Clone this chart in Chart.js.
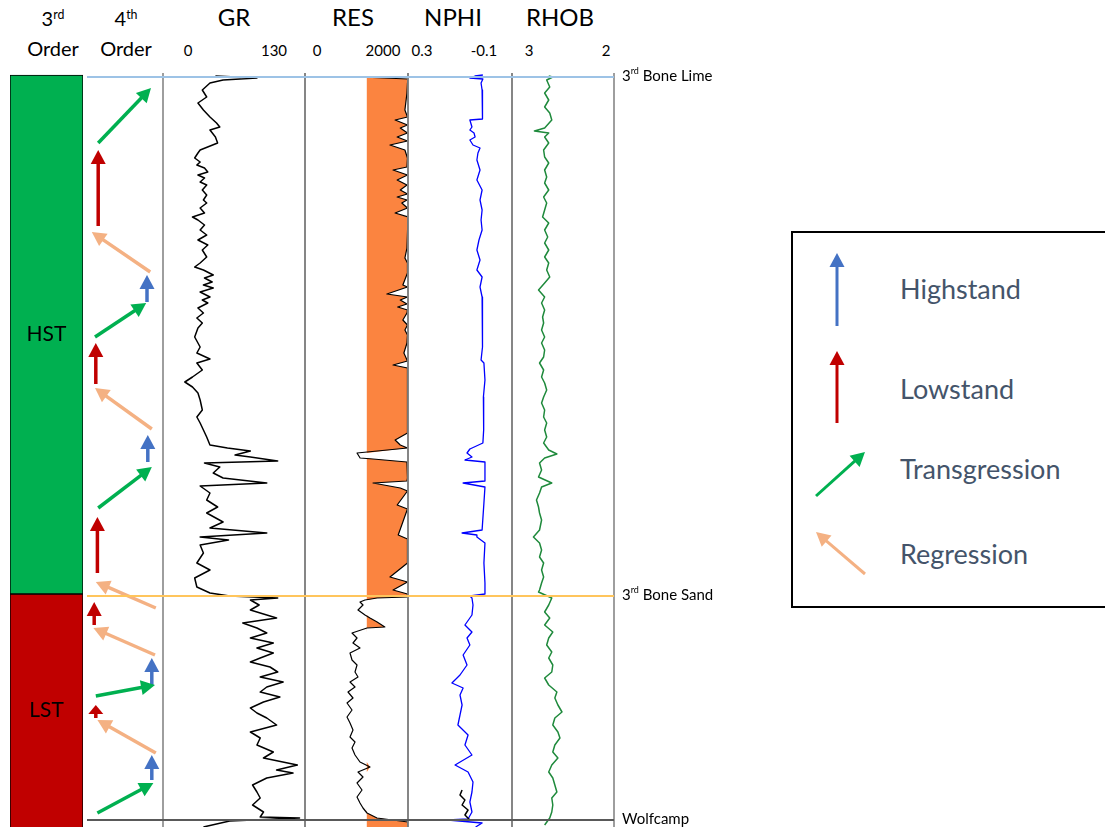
<!DOCTYPE html>
<html>
<head>
<meta charset="utf-8">
<title>Sequence stratigraphy log panel</title>
<script src="https://cdn.jsdelivr.net/npm/chart.js@4.4.1/dist/chart.umd.min.js"></script>
<style>
  html, body { margin: 0; padding: 0; background: #fff; }
  body { position: relative; width: 1105px; height: 827px; overflow: hidden; font-family: Lato, "Open Sans", sans-serif; color: #000; }
  .pane { position: absolute; }
  .pane canvas { display: block; }
  .txt { position: absolute; transform: translate(-50%, -50%); white-space: nowrap; line-height: 1; }
  sup { font-size: 0.62em; position: relative; top: -0.6em; vertical-align: baseline; line-height: 0; }
  .title { font-size: 24px; }
  .col { font-size: 20px; }
  .tick { font-size: 15px; }
  #legendBox { position: absolute; left: 791px; top: 231px; width: 340px; height: 377px; border: 2px solid #000; box-sizing: border-box; }
  .legTxt { position: absolute; left: 900px; transform: translateY(-50%); font-size: 27px; color: #44546a; line-height: 1; white-space: nowrap; }
</style>
</head>
<body>
<div id="legendBox"></div>
<script>
// depth runs down from the top of the log panel (same units for every track)
const DEPTH_MAX = 754;
const RES_CUTOFF = 1200;

// headers and scale labels
const columnTitles = ['3rd Order', '4th Order'];
const trackNames = ['GR', 'RES', 'NPHI', 'RHOB'];
const grTicks = ['0', '130'];
const resTicks = ['0', '2000'];
const nphiTicks = ['0.3', '-0.1'];
const rhobTicks = ['3', '2'];

// 3rd order systems tracts
const tractNames = ['HST', 'LST'];
const tractTop = [2, 521];
const tractBase = [521, 760];

// formation tops
const topNames = ['3rd Bone Lime', '3rd Bone Sand', 'Wolfcamp'];
const topDepth = [4, 523, 747];

// 4th order cycles: H highstand, L lowstand, T transgression, R regression
const arrowType = ['T', 'L', 'R', 'H', 'T', 'L', 'R', 'H', 'T', 'L', 'R', 'L', 'R', 'H', 'T', 'L', 'R', 'H', 'T'];
const arrowFromX = [0.19, 0.19, 0.84, 0.80, 0.15, 0.16, 0.86, 0.81, 0.19, 0.18, 0.91, 0.14, 0.90, 0.86, 0.16, 0.16, 0.91, 0.86, 0.18];
const arrowFromDepth = [70, 153, 199, 229, 264, 311, 356, 389, 435, 500, 535, 552, 582, 612, 623, 645, 680, 707, 740];
const arrowToX = [0.85, 0.19, 0.11, 0.80, 0.79, 0.16, 0.15, 0.81, 0.86, 0.18, 0.16, 0.14, 0.13, 0.86, 0.90, 0.16, 0.18, 0.86, 0.88];
const arrowToDepth = [15, 77, 159, 202, 230, 270, 315, 362, 394, 444, 509, 529, 555, 585, 612, 632, 647, 682, 710];

const legendCodes = ['H', 'L', 'T', 'R'];
const legendLabels = ['Highstand', 'Lowstand', 'Transgression', 'Regression'];

// GR (API)
const grDepth = [
  3, 5, 7, 10, 17, 24, 30, 37, 44, 50,
  54, 57, 64, 70, 77, 80, 85, 89, 92, 95,
  99, 102, 105, 109, 112, 117, 122, 127, 130, 135,
  140, 144, 147, 152, 157, 162, 167, 172, 177, 184,
  190, 194, 197, 202, 205, 209, 212, 215, 219, 224,
  227, 230, 235, 240, 245, 250, 255, 264, 274, 280,
  286, 290, 297, 304, 309, 314, 320, 327, 337, 344,
  350, 357, 364, 372, 375, 378, 382, 384, 388, 390,
  394, 400, 405, 410, 413, 420, 427, 434, 440, 449,
  455, 460, 464, 467, 472, 480, 490, 497, 505, 514,
  520, 523, 525, 527, 532, 537, 542, 545, 550, 555,
  560, 565, 570, 575, 580, 585, 589, 594, 599, 604,
  609, 614, 619, 624, 629, 635, 640, 645, 652, 659,
  665, 672, 679, 685, 692, 697, 700, 705, 712, 719,
  725, 732, 739, 744, 745, 748, 754
];
const grValues = [
  48, 86, 55, 43, 36, 40, 32, 37, 43, 49,
  52, 43, 48, 50, 34, 32, 29, 34, 31, 38,
  41, 32, 38, 34, 40, 36, 40, 37, 40, 34,
  38, 27, 32, 38, 34, 40, 32, 41, 36, 40,
  34, 29, 37, 46, 38, 45, 37, 46, 34, 43,
  36, 41, 32, 37, 31, 36, 32, 29, 34, 31,
  43, 31, 36, 27, 20, 27, 32, 34, 36, 31,
  34, 37, 40, 43, 59, 80, 66, 80, 105, 38,
  52, 46, 55, 95, 34, 43, 40, 50, 40, 55,
  43, 95, 34, 60, 34, 37, 31, 43, 29, 31,
  43, 61, 105, 80, 88, 80, 95, 104, 73, 86,
  95, 80, 101, 86, 101, 89, 80, 98, 105, 89,
  110, 95, 89, 107, 92, 80, 86, 95, 104, 80,
  89, 86, 101, 92, 123, 104, 119, 95, 82, 86,
  89, 82, 92, 89, 125, 61, 37
];

// RES (ohm.m)
const resDepth = [
  4, 6, 10, 20, 37, 44, 47, 52, 55, 60,
  64, 68, 72, 77, 85, 94, 97, 102, 107, 112,
  117, 121, 124, 127, 130, 135, 140, 144, 160, 175,
  185, 190, 200, 212, 214, 221, 224, 227, 231, 234,
  237, 240, 247, 252, 257, 262, 270, 280, 288, 292,
  295, 310, 330, 360, 367, 372, 375, 380, 385, 386,
  389, 405, 408, 410, 415, 418, 432, 436, 462, 466,
  490, 504, 509, 517, 521, 524, 525, 527, 529, 532,
  537, 542, 545, 549, 554, 555, 560, 565, 570, 575,
  580, 587, 592, 599, 604, 609, 614, 619, 625, 630,
  637, 644, 650, 657, 664, 669, 675, 682, 689, 694,
  699, 704, 710, 717, 724, 730, 735, 740, 745, 749,
  754
];
const resValues = [
  1070, 2000, 1990, 1980, 1940, 1990, 1750, 1990, 1850, 1990,
  1790, 1990, 1650, 1940, 1990, 1980, 1710, 1990, 1790, 1980,
  1850, 1990, 1790, 1980, 1880, 1990, 1750, 2000, 1990, 1980,
  1940, 1990, 1990, 1900, 1990, 1590, 1990, 1850, 1980, 1800,
  1990, 1980, 1900, 1990, 1940, 1990, 1980, 1920, 1990, 1710,
  1990, 1990, 1990, 1990, 1750, 1850, 1990, 1010, 1070, 1320,
  1980, 1990, 1980, 1320, 1850, 1990, 1790, 1990, 1810, 1990,
  1990, 1650, 1990, 1710, 1990, 1990, 1400, 1165, 1068, 1126,
  1029, 1165, 1262, 1400, 1550, 1204, 913, 1010, 932, 1068,
  874, 913, 1010, 971, 1029, 874, 971, 835, 932, 816,
  913, 816, 874, 932, 874, 971, 913, 971, 1068, 1262,
  1029, 1126, 1010, 1107, 1010, 1068, 1126, 1204, 1398, 2000,
  2000
];

// NPHI (v/v)
const nphiDepth = [
  2, 3, 5, 6, 10, 17, 24, 30, 37, 46,
  47, 54, 57, 60, 64, 67, 72, 75, 80, 87,
  97, 107, 117, 127, 137, 147, 157, 167, 177, 187,
  197, 204, 214, 224, 234, 244, 257, 274, 287, 290,
  307, 324, 340, 357, 370, 376, 380, 384, 387, 389,
  408, 410, 414, 430, 457, 460, 462, 464, 470, 490,
  510, 521, 523, 525, 532, 542, 552, 559, 565, 572,
  582, 592, 602, 610, 615, 622, 632, 642, 652, 662,
  672, 682, 692, 699, 709, 719, 729, 739, 746, 747,
  750, 754
];
const nphiValues = [
  0.012, 0.042, 0.062, 0.012, 0.019, 0.015, 0.012, 0.015, 0.012, 0.015,
  0.062, 0.054, 0.062, 0.046, 0.042, 0.062, 0.050, 0.023, 0.031, 0.035,
  0.023, 0.035, 0.015, 0.023, 0.015, 0.019, 0.015, 0.027, 0.035, 0.023,
  0.035, 0.015, 0.023, 0.015, 0.015, 0.012, 0.012, 0.015, 0.019, 0.008,
  0.004, 0.010, 0.008, 0.010, 0.012, 0.062, 0.073, 0.054, 0.081, 0.004,
  0.004, 0.088, 0.004, 0.008, 0.015, 0.092, 0.035, 0.035, 0.004, 0.008,
  0.004, 0.004, 0.062, 0.054, 0.050, 0.054, 0.081, 0.054, 0.073, 0.062,
  0.088, 0.073, 0.100, 0.131, 0.088, 0.100, 0.092, 0.100, 0.108, 0.069,
  0.081, 0.054, 0.119, 0.069, 0.050, 0.054, 0.062, 0.054, 0.069, 0.146,
  0.015, 0.040
];
// short black trace drawn in the NPHI track above Wolfcamp
const nphi2Depth = [717, 722, 727, 732, 737, 742, 747];
const nphi2Values = [0.092, 0.100, 0.081, 0.092, 0.069, 0.081, 0.062];

// RHOB (g/cc)
const rhobDepth = [
  3, 4, 7, 14, 20, 27, 34, 40, 47, 55,
  58, 60, 64, 70, 77, 84, 90, 97, 104, 110,
  117, 124, 130, 137, 144, 150, 157, 164, 170, 177,
  184, 190, 197, 204, 210, 217, 224, 230, 237, 244,
  250, 257, 264, 270, 277, 284, 290, 297, 304, 310,
  317, 324, 330, 337, 344, 350, 357, 364, 370, 377,
  381, 385, 390, 397, 404, 410, 414, 420, 427, 434,
  440, 447, 457, 464, 470, 477, 484, 490, 497, 504,
  510, 517, 519, 525, 532, 539, 545, 552, 559, 565,
  572, 579, 585, 592, 599, 605, 612, 619, 625, 632,
  639, 645, 652, 659, 665, 672, 679, 685, 692, 699,
  705, 712, 719, 725, 732, 739, 745, 752
];
const rhobValues = [
  2.64, 2.60, 2.66, 2.63, 2.68, 2.64, 2.68, 2.63, 2.61, 2.68,
  2.78, 2.64, 2.68, 2.64, 2.69, 2.68, 2.64, 2.68, 2.66, 2.68,
  2.64, 2.69, 2.66, 2.68, 2.70, 2.64, 2.68, 2.65, 2.68, 2.64,
  2.68, 2.64, 2.66, 2.63, 2.68, 2.74, 2.68, 2.71, 2.68, 2.70,
  2.69, 2.71, 2.68, 2.71, 2.68, 2.69, 2.73, 2.69, 2.71, 2.68,
  2.66, 2.69, 2.71, 2.68, 2.69, 2.66, 2.68, 2.66, 2.69, 2.64,
  2.56, 2.68, 2.73, 2.71, 2.74, 2.61, 2.71, 2.73, 2.76, 2.74,
  2.73, 2.71, 2.73, 2.79, 2.73, 2.71, 2.73, 2.69, 2.71, 2.69,
  2.71, 2.73, 2.74, 2.61, 2.64, 2.68, 2.63, 2.68, 2.60, 2.64,
  2.66, 2.61, 2.64, 2.60, 2.61, 2.68, 2.64, 2.56, 2.58, 2.55,
  2.51, 2.58, 2.60, 2.55, 2.53, 2.58, 2.60, 2.55, 2.61, 2.64,
  2.60, 2.58, 2.56, 2.61, 2.60, 2.61, 2.63, 2.68
];

// ---- layout ----
const PANEL_TOP = 73, PANEL_H = 754;
const trackEdges = [163, 305, 408, 512, 614];
const headerX = [234, 353, 453, 560];
const tickX = [[188, 274], [317, 383], [422, 484], [529, 606]];
const colHeaderX = [53, 126];
const legendRowY = [288, 388, 468, 553];
const PAD = 4;

const arrowColors = {H: '#4472c4', L: '#c00000', T: '#00b050', R: '#f4b183'};
const tractColors = ['#00b050', '#c00000'];
const topColors = ['#9dc3e6', '#ffc55c', '#595959'];

function addText(html, x, y, cls) {
  const el = document.createElement('div');
  el.className = 'txt ' + cls;
  el.style.left = x + 'px';
  el.style.top = y + 'px';
  el.innerHTML = html;
  document.body.appendChild(el);
}
const ord = s => s.replace(/^(\d+)(st|nd|rd|th)/, '$1<sup>$2</sup>');

columnTitles.forEach((t, i) => {
  const parts = t.split(' ');
  addText(ord(parts[0]), colHeaderX[i], 18, 'col');
  addText(parts[1], colHeaderX[i], 48, 'col');
});
trackNames.forEach((t, i) => addText(t, headerX[i], 17, 'title'));
[grTicks, resTicks, nphiTicks, rhobTicks].forEach((tk, i) => {
  tk.forEach((lab, j) => addText(lab, tickX[i][j], 50, 'tick'));
});

function makePane(left, top, width, height) {
  const pane = document.createElement('div');
  pane.className = 'pane';
  pane.style.left = left + 'px';
  pane.style.top = top + 'px';
  const cv = document.createElement('canvas');
  cv.width = width;
  cv.height = height;
  cv.style.width = width + 'px';
  cv.style.height = height + 'px';
  pane.appendChild(cv);
  document.body.appendChild(pane);
  return cv;
}

const baseOptions = {
  responsive: false,
  animation: false,
  devicePixelRatio: 1,
  events: [],
  plugins: {legend: {display: false}, tooltip: {enabled: false}}
};
const depthAxis = {type: 'linear', min: 0, max: DEPTH_MAX, reverse: true, display: false};

const depthLine = (depths, values) => depths.map((d, i) => ({x: values[i], y: d}));

// track borders
const trackFrame = {
  id: 'trackFrame',
  afterDatasetsDraw(chart) {
    const {ctx, chartArea} = chart;
    ctx.save();
    ctx.strokeStyle = '#7f7f7f';
    ctx.lineWidth = 1.5;
    ctx.beginPath();
    ctx.moveTo(chartArea.left, 0);
    ctx.lineTo(chartArea.left, chart.height);
    ctx.moveTo(chartArea.right, 0);
    ctx.lineTo(chartArea.right, chart.height);
    ctx.stroke();
    ctx.restore();
  }
};

function trackChart(i, xMin, xMax, reverse, datasets) {
  const left = trackEdges[i], right = trackEdges[i + 1];
  const cv = makePane(left - PAD, PANEL_TOP, right - left + 2 * PAD, PANEL_H);
  return new Chart(cv, {
    type: 'line',
    data: {datasets},
    options: {
      ...baseOptions,
      indexAxis: 'y',
      layout: {padding: {left: PAD, right: PAD, top: 0, bottom: 0}},
      elements: {point: {radius: 0}, line: {tension: 0, borderJoinStyle: 'round'}},
      scales: {
        x: {type: 'linear', min: xMin, max: xMax, reverse, display: false},
        y: depthAxis
      }
    },
    plugins: [trackFrame]
  });
}

trackChart(0, 0, 130, false, [
  {label: 'GR', data: depthLine(grDepth, grValues), borderColor: '#000', borderWidth: 1.5}
]);

trackChart(1, 0, 2000, false, [
  {label: 'RES', data: depthLine(resDepth, resValues), borderColor: '#000', borderWidth: 1.2, order: 1},
  {
    label: 'RES above cutoff',
    data: depthLine(resDepth, resValues.map(v => Math.max(v, RES_CUTOFF))),
    borderWidth: 0, borderColor: 'rgba(0,0,0,0)',
    backgroundColor: '#fb8440',
    fill: {value: RES_CUTOFF},
    order: 2
  }
]);

trackChart(2, -0.1, 0.3, true, [
  {label: 'NPHI', data: depthLine(nphiDepth, nphiValues), borderColor: '#0000ff', borderWidth: 1.3, order: 2},
  {label: 'NPHI 2', data: depthLine(nphi2Depth, nphi2Values), borderColor: '#000', borderWidth: 1.5, order: 1}
]);

trackChart(3, 2, 3, true, [
  {label: 'RHOB', data: depthLine(rhobDepth, rhobValues), borderColor: '#1f8a3c', borderWidth: 1.5}
]);

// 3rd order systems tracts
const tractLabels = {
  id: 'tractLabels',
  afterDatasetsDraw(chart) {
    const {ctx, chartArea} = chart;
    ctx.save();
    ctx.font = '21px Lato, sans-serif';
    ctx.fillStyle = '#000';
    ctx.textAlign = 'center';
    ctx.textBaseline = 'middle';
    chart.data.datasets.forEach((ds, i) => {
      const bar = chart.getDatasetMeta(i).data[0];
      const top = Math.max(Math.min(bar.y, bar.base), chartArea.top);
      const bot = Math.min(Math.max(bar.y, bar.base), chartArea.bottom);
      ctx.fillText(ds.label, bar.x, (top + bot) / 2);
    });
    ctx.restore();
  }
};

new Chart(makePane(10, PANEL_TOP, 73, PANEL_H), {
  type: 'bar',
  data: {
    labels: ['3rd Order'],
    datasets: tractNames.map((n, i) => ({
      label: n,
      data: [[tractTop[i], tractBase[i]]],
      backgroundColor: tractColors[i],
      borderColor: '#000',
      borderWidth: 1,
      borderSkipped: false,
      grouped: false,
      barPercentage: 1,
      categoryPercentage: 1
    }))
  },
  options: {
    ...baseOptions,
    scales: {x: {display: false}, y: depthAxis}
  },
  plugins: [tractLabels]
});

// arrows: shaft drawn by the line, head added here
function arrowPlugin(headLen, headW) {
  return {
    id: 'arrowHeads',
    beforeDatasetsDraw(chart) {
      chart.data.datasets.forEach((ds, i) => {
        const pts = chart.getDatasetMeta(i).data;
        const a = pts[0], b = pts[1];
        const dx = b.x - a.x, dy = b.y - a.y, len = Math.hypot(dx, dy);
        const h = Math.min(headLen, len * 0.7);
        b.$tip = {x: b.x, y: b.y, ux: dx / len, uy: dy / len, h};
        b.x -= dx / len * h * 0.8;
        b.y -= dy / len * h * 0.8;
      });
    },
    afterDatasetsDraw(chart) {
      const ctx = chart.ctx;
      chart.data.datasets.forEach((ds, i) => {
        const b = chart.getDatasetMeta(i).data[1];
        const t = b.$tip;
        if (!t) return;
        b.x = t.x;
        b.y = t.y;
        const bx = t.x - t.ux * t.h, by = t.y - t.uy * t.h, w = headW / 2;
        ctx.save();
        ctx.fillStyle = ds.borderColor;
        ctx.beginPath();
        ctx.moveTo(t.x, t.y);
        ctx.lineTo(bx - t.uy * w, by + t.ux * w);
        ctx.lineTo(bx + t.uy * w, by - t.ux * w);
        ctx.closePath();
        ctx.fill();
        ctx.restore();
      });
    }
  };
}

new Chart(makePane(78, PANEL_TOP, 90, PANEL_H), {
  type: 'line',
  data: {
    datasets: arrowType.map((t, i) => ({
      label: t,
      data: [{x: arrowFromX[i], y: arrowFromDepth[i]}, {x: arrowToX[i], y: arrowToDepth[i]}],
      borderColor: arrowColors[t],
      borderWidth: 3.5,
      borderCapStyle: 'butt',
      pointRadius: 0
    }))
  },
  options: {
    ...baseOptions,
    layout: {padding: {left: 5, right: 5, top: 0, bottom: 0}},
    scales: {x: {type: 'linear', min: 0, max: 1, display: false}, y: depthAxis}
  },
  plugins: [arrowPlugin(14, 15)]
});

// formation tops across the tracks
const topLabels = {
  id: 'topLabels',
  afterDatasetsDraw(chart) {
    const {ctx, chartArea, scales} = chart;
    ctx.save();
    ctx.fillStyle = '#000';
    ctx.textBaseline = 'middle';
    topNames.forEach((name, i) => {
      const y = scales.y.getPixelForValue(topDepth[i]) - 1;
      let x = chartArea.right + 8;
      const m = name.match(/^(\d+)(st|nd|rd|th)(.*)$/);
      ctx.font = '15px Lato, sans-serif';
      if (m) {
        ctx.fillText(m[1], x, y);
        x += ctx.measureText(m[1]).width;
        ctx.font = '9px Lato, sans-serif';
        ctx.fillText(m[2], x, y - 5);
        x += ctx.measureText(m[2]).width;
        ctx.font = '15px Lato, sans-serif';
        ctx.fillText(m[3], x, y);
      } else {
        ctx.fillText(name, x, y);
      }
    });
    ctx.restore();
  }
};

const TOPS_PAD = 14;
new Chart(makePane(85, PANEL_TOP - TOPS_PAD, 655, PANEL_H + TOPS_PAD), {
  type: 'line',
  data: {
    datasets: topNames.map((n, i) => ({
      label: n,
      data: [{x: 0, y: topDepth[i]}, {x: 1, y: topDepth[i]}],
      borderColor: topColors[i],
      borderWidth: 2,
      pointRadius: 0
    }))
  },
  options: {
    ...baseOptions,
    layout: {padding: {left: 2, right: 126, top: TOPS_PAD, bottom: 0}},
    scales: {x: {type: 'linear', min: 0, max: 1, display: false}, y: depthAxis}
  },
  plugins: [topLabels]
});

// legend
const LEG_LEFT = 795, LEG_TOP = 235;
const legendGlyph = {
  H: [42, 38, 42, -35],
  L: [42, 35, 42, -37],
  T: [21, 28, 70, -16],
  R: [70, 21, 21, -21]
};
new Chart(makePane(LEG_LEFT, LEG_TOP, 100, 370), {
  type: 'line',
  data: {
    datasets: legendCodes.map((c, i) => {
      const g = legendGlyph[c], cy = legendRowY[i] - LEG_TOP;
      return {
        label: legendLabels[i],
        data: [{x: g[0], y: cy + g[1]}, {x: g[2], y: cy + g[3]}],
        borderColor: arrowColors[c],
        borderWidth: 3,
        borderCapStyle: 'butt',
        pointRadius: 0
      };
    })
  },
  options: {
    ...baseOptions,
    scales: {
      x: {type: 'linear', min: 0, max: 100, display: false},
      y: {type: 'linear', min: 0, max: 370, reverse: true, display: false}
    }
  },
  plugins: [arrowPlugin(14, 15)]
});
legendLabels.forEach((lab, i) => {
  const el = document.createElement('div');
  el.className = 'legTxt';
  el.style.top = legendRowY[i] + 'px';
  el.textContent = lab;
  document.body.appendChild(el);
});
</script>
</body>
</html>
